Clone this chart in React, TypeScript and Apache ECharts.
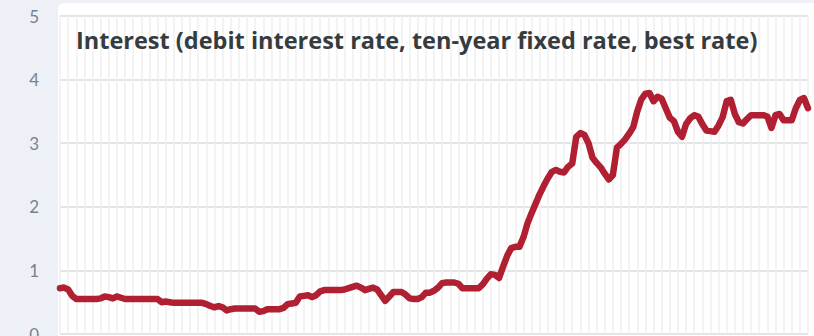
import React, { useEffect, useRef } from "react";
import * as echarts from "echarts";

const TITLE = "Interest (debit interest rate, ten-year fixed rate, best rate)";
const Y_TICKS = [0, 1, 2, 3, 4, 5];

// half-monthly observations, 92 months
const RATES = [
  0.72, 0.73, 0.70, 0.60, 0.55, 0.55, 0.55, 0.55, 0.55, 0.55,
  0.56, 0.59, 0.58, 0.56, 0.59, 0.57, 0.55, 0.55, 0.55, 0.55,
  0.55, 0.55, 0.55, 0.55, 0.55, 0.50, 0.51, 0.50, 0.49, 0.49,
  0.49, 0.49, 0.49, 0.49, 0.49, 0.49, 0.47, 0.44, 0.42, 0.44,
  0.42, 0.37, 0.39, 0.40, 0.40, 0.40, 0.40, 0.40, 0.40, 0.35,
  0.36, 0.39, 0.39, 0.39, 0.39, 0.41, 0.47, 0.48, 0.49, 0.59,
  0.60, 0.61, 0.58, 0.61, 0.67, 0.69, 0.69, 0.69, 0.69, 0.69,
  0.70, 0.72, 0.74, 0.76, 0.73, 0.69, 0.71, 0.73, 0.70, 0.61,
  0.52, 0.59, 0.66, 0.66, 0.66, 0.62, 0.56, 0.55, 0.55, 0.58,
  0.65, 0.65, 0.68, 0.73, 0.80, 0.81, 0.81, 0.81, 0.79, 0.72,
  0.72, 0.72, 0.72, 0.72, 0.78, 0.87, 0.94, 0.93, 0.88, 1.06,
  1.23, 1.35, 1.37, 1.37, 1.52, 1.74, 1.90, 2.05, 2.20, 2.33,
  2.45, 2.55, 2.58, 2.55, 2.54, 2.63, 2.68, 3.10, 3.16, 3.13,
  3.00, 2.77, 2.69, 2.62, 2.52, 2.43, 2.50, 2.93, 2.99, 3.06,
  3.15, 3.25, 3.50, 3.69, 3.78, 3.79, 3.66, 3.73, 3.70, 3.55,
  3.40, 3.35, 3.18, 3.10, 3.30, 3.39, 3.44, 3.42, 3.30, 3.20,
  3.19, 3.18, 3.28, 3.41, 3.66, 3.68, 3.46, 3.33, 3.31, 3.38,
  3.44, 3.44, 3.44, 3.44, 3.42, 3.24, 3.44, 3.46, 3.36, 3.36,
  3.36, 3.55, 3.68, 3.71, 3.55,
];

const START_YEAR = 2017;
const START_MONTH = 5; // June (0-based)
const PERIODS: string[] = RATES.map((_, i) => {
  const m = START_MONTH + Math.floor(i / 2);
  const y = START_YEAR + Math.floor(m / 12);
  const mm = String((m % 12) + 1).padStart(2, "0");
  return `${y}-${mm}-${i % 2 === 0 ? "01" : "15"}`;
});

export default function App() {
  const ref = useRef<HTMLDivElement>(null);

  useEffect(() => {
    document.body.style.margin = "0";
    if (!ref.current) return;
    const chart = echarts.init(ref.current, undefined, { renderer: "svg" });
    chart.setOption({
      animation: false,
      backgroundColor: "#eef0f7",
      graphic: [
        {
          type: "rect",
          z: -10,
          silent: true,
          shape: { x: 58, y: 3, width: 800, height: 400, r: 6 },
          style: { fill: "#ffffff" },
        },
        {
          type: "text",
          z: 100,
          silent: true,
          style: {
            x: 76,
            y: 40,
            text: TITLE,
            fill: "#363b40",
            font: "bold 23.5px 'Open Sans'",
            verticalAlign: "middle",
          },
        },
      ],
      grid: { left: 60, right: 6, top: 16, bottom: 2, outerBoundsMode: "none" },
      xAxis: {
        type: "category",
        data: PERIODS,
        boundaryGap: false,
        axisLine: { show: false },
        axisTick: { show: false },
        axisLabel: { show: false },
        splitLine: {
          show: true,
          interval: (index: number) => index % 2 === 0,
          lineStyle: { color: "#efefef", width: 1.5 },
        },
      },
      yAxis: {
        type: "value",
        min: Y_TICKS[0],
        max: Y_TICKS[Y_TICKS.length - 1],
        interval: 1,
        axisLine: { show: false },
        axisTick: { show: false },
        axisLabel: {
          color: "#7b8189",
          fontSize: 17,
          fontFamily: "Lato",
          margin: 21,
        },
        splitLine: { lineStyle: { color: "#e4e4e4", width: 2 } },
      },
      series: [
        {
          type: "line",
          data: RATES,
          showSymbol: false,
          symbol: "none",
          lineStyle: { color: "#b11f32", width: 6.5, cap: "round", join: "round" },
          z: 5,
        },
      ],
    });
    return () => chart.dispose();
  }, []);

  return <div ref={ref} style={{ width: 814, height: 336 }} />;
}
